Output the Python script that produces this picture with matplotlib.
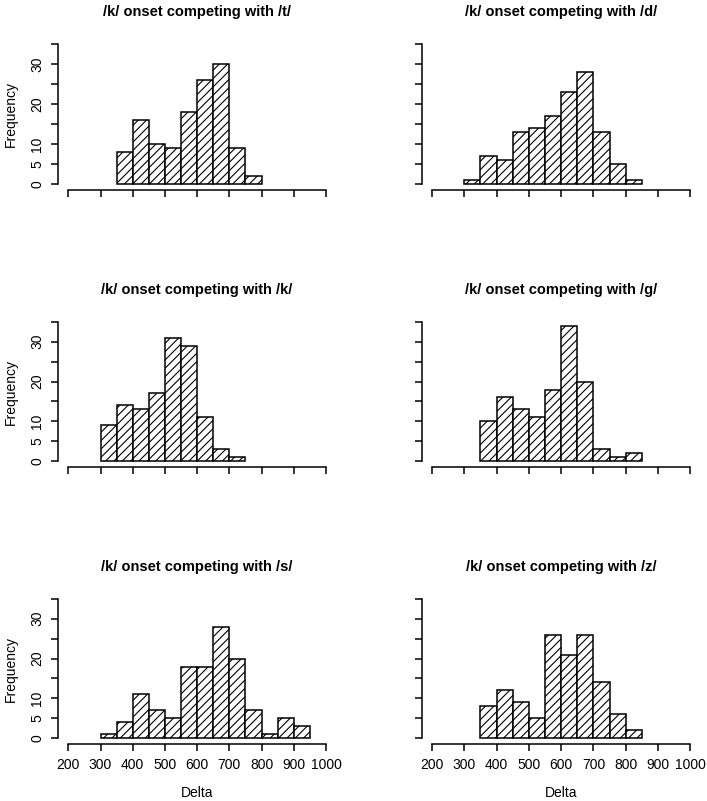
import numpy as np
import matplotlib
matplotlib.use("Agg")
import matplotlib.pyplot as plt

plt.rcParams["font.family"] = ["Liberation Sans", "DejaVu Sans"]
plt.rcParams["hatch.linewidth"] = 0.8

titles = [
    "/k/ onset competing with /t/",
    "/k/ onset competing with /d/",
    "/k/ onset competing with /k/",
    "/k/ onset competing with /g/",
    "/k/ onset competing with /s/",
    "/k/ onset competing with /z/",
]

# bin left edges (width 50) and counts per panel
t_start, t_counts = 350, [8, 16, 10, 9, 18, 26, 30, 9, 2]
d_start, d_counts = 300, [1, 7, 6, 13, 14, 17, 23, 28, 13, 5, 1]
k_start, k_counts = 300, [9, 14, 13, 17, 31, 29, 11, 3, 1]
g_start, g_counts = 350, [10, 16, 13, 11, 18, 34, 20, 3, 1, 2]
s_start, s_counts = 300, [1, 4, 11, 7, 5, 18, 18, 28, 20, 7, 1, 5, 3]
z_start, z_counts = 350, [8, 12, 9, 5, 26, 21, 26, 14, 6, 2]

starts = [t_start, d_start, k_start, g_start, s_start, z_start]
counts = [t_counts, d_counts, k_counts, g_counts, s_counts, z_counts]
bin_width = 50

x_ticks = [200, 300, 400, 500, 600, 700, 800, 900, 1000]
y_ticks = [0, 5, 10, 15, 20, 25, 30, 35]
y_labels = ["0", "5", "10", "", "20", "", "30", ""]

W, H = 707, 801
fig = plt.figure(figsize=(W / 100, H / 100), dpi=100)

# pixel boxes of the plot regions: (left, top, right, bottom)
cols = [(58, 336.3), (421.7, 700.7)]
rows = [(38.4, 189.6), (316.1, 466.9), (593.1, 743.9)]

for i in range(6):
    r, c = divmod(i, 2)
    l, rr = cols[c]
    t, b = rows[r]
    ax = fig.add_axes([l / W, 1 - b / H, (rr - l) / W, (b - t) / H])

    n = len(counts[i])
    lefts = starts[i] + bin_width * np.arange(n)
    ax.bar(lefts, counts[i], width=bin_width, align="edge",
           facecolor="white", edgecolor="black", linewidth=1.1, hatch="////")

    ax.set_xlim(168, 1032)
    ax.set_ylim(-1.4, 36.4)
    for side in ["top", "right"]:
        ax.spines[side].set_visible(False)
    ax.spines["bottom"].set_bounds(200, 1000)
    ax.spines["left"].set_bounds(0, 35)
    for side in ["bottom", "left"]:
        ax.spines[side].set_linewidth(1.1)

    ax.set_xticks(x_ticks)
    ax.set_yticks(y_ticks)
    ax.tick_params(direction="out", length=5, width=1.1, labelsize=10, pad=5)

    if r == 2:
        ax.set_xticklabels([str(v) for v in x_ticks])
        ax.set_xlabel("Delta", fontsize=10, labelpad=10)
    else:
        ax.set_xticklabels([])
    if c == 0:
        ax.set_yticklabels(y_labels, rotation=90, va="center")
        ax.set_ylabel("Frequency", fontsize=10, labelpad=9)
    else:
        ax.set_yticklabels([])

    ax.set_title(titles[i], fontsize=10.5, fontweight="bold", pad=16)

fig.savefig("out.png", dpi=100)
